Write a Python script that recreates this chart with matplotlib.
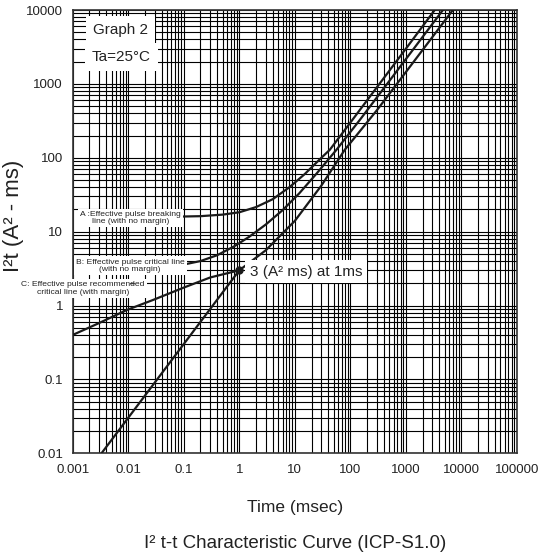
import matplotlib.pyplot as plt
from matplotlib.ticker import LogLocator, NullFormatter, FixedLocator, FixedFormatter

plt.rcParams['font.family'] = ['Liberation Sans', 'DejaVu Sans']

# axis ticks
x_ticks = [0.001, 0.01, 0.1, 1, 10, 100, 1000, 10000, 100000]
x_tick_labels = ["0.001", "0.01", "0.1", "1", "10", "100", "1000", "10000", "100000"]
y_ticks = [0.01, 0.1, 1, 10, 100, 1000, 10000]
y_tick_labels = ["0.01", "0.1", "1", "10", "100", "1000", "10000"]

# A: effective pulse breaking line
a_time = [0.085, 0.2, 0.5, 1, 2, 4, 8, 15, 30, 42.5, 100, 300, 1000, 3300]
a_i2t = [16.0, 16.2, 17.0, 18.3, 21.5, 27.5, 40, 60, 100, 128, 300, 900, 3000, 10000]

# B: effective pulse critical line
b_time = [0.085, 0.2, 0.4, 0.8, 1.5, 3, 6, 12, 25, 56, 150, 500, 1500, 4630]
b_i2t = [3.5, 4.0, 4.8, 6.3, 8.5, 12.5, 19.5, 33, 62, 128, 330, 1090, 3250, 10000]

# C: effective pulse recommended critical line
c_time = [0.001, 0.003, 0.0094, 0.028, 0.1, 0.3, 1.0, 3, 10, 30, 79, 300, 1000, 7000]
c_i2t = [0.40, 0.58, 0.87, 1.19, 1.75, 2.4, 3.0, 5.6, 14, 42, 128, 440, 1450, 10000]

# constant current line through 3 A^2ms at 1ms
k_time = [0.0033, 1.0]
k_i2t = [0.01, 3.0]

fig = plt.figure(figsize=(5.47, 5.53), dpi=100)
ax = fig.add_axes([0.1329, 0.1803, 0.8123, 0.8016])
ax.set_xscale("log")
ax.set_yscale("log")
ax.set_xlim(0.001, 100000)
ax.set_ylim(0.01, 10000)

# dense black log grid
ax.xaxis.set_minor_locator(LogLocator(base=10, subs=range(2, 10), numticks=20))
ax.yaxis.set_minor_locator(LogLocator(base=10, subs=range(2, 10), numticks=20))
ax.xaxis.set_minor_formatter(NullFormatter())
ax.yaxis.set_minor_formatter(NullFormatter())
ax.grid(True, which="both", color="black", linewidth=0.8)
ax.set_axisbelow(True)

ax.xaxis.set_major_locator(FixedLocator(x_ticks))
ax.xaxis.set_major_formatter(FixedFormatter(x_tick_labels))
ax.yaxis.set_major_locator(FixedLocator(y_ticks))
ax.yaxis.set_major_formatter(FixedFormatter(y_tick_labels))
ax.tick_params(which="both", length=0, labelsize=9.5, colors="#222222")
ax.tick_params(axis="x", pad=8)
ax.tick_params(axis="y", pad=7)
for s in ax.spines.values():
    s.set_linewidth(1.2)
    s.set_color("#333333")

lc = "#1a1a1a"
ax.plot(a_time, a_i2t, color=lc, linewidth=1.6, zorder=3)
ax.plot(b_time, b_i2t, color=lc, linewidth=1.6, zorder=3)
ax.plot(c_time, c_i2t, color=lc, linewidth=1.6, zorder=3)
ax.plot(k_time, k_i2t, color=lc, linewidth=1.6, zorder=3)
ax.plot([k_time[-1]], [k_i2t[-1]], "o", color=lc, markersize=5, zorder=4)

box = dict(boxstyle="square,pad=0.25", facecolor="white", edgecolor="none")
ax.text(0.0111, 15.3, "A :Effective pulse breaking\nline (with no margin)", fontsize=6.1,
        ha="center", va="center", linespacing=1.15, bbox=box, zorder=5, color="#222222")
ax.text(0.0108, 3.44, "B: Effective pulse critical line\n(with no margin)", fontsize=6.1,
        ha="center", va="center", linespacing=1.15, bbox=box, zorder=5, color="#222222")
ax.text(0.00153, 1.70, "C: Effective pulse recommended\ncritical line (with margin)", fontsize=6.1,
        ha="center", va="center", linespacing=1.15, bbox=box, zorder=5, color="#222222")
# leader from C label towards the curve
ax.annotate("", xy=(0.0145, 1.98), xytext=(0.0098, 1.98),
            arrowprops=dict(arrowstyle="-", color="#333333", linewidth=0.8), zorder=5)

ax.text(0.00724, 5360, "Graph 2", fontsize=11, ha="center", va="center", zorder=5,
        color="#222222", bbox=dict(boxstyle="square,pad=0.45", facecolor="white", edgecolor="none"))
ax.text(0.0076, 2333, "Ta=25°C", fontsize=11, ha="center", va="center", zorder=5,
        color="#222222", bbox=dict(boxstyle="square,pad=0.45", facecolor="white", edgecolor="none"))
ax.text(1.55, 2.88, "3 (A² ms) at 1ms", fontsize=11, ha="left", va="center", zorder=5,
        color="#222222", bbox=dict(boxstyle="square,pad=0.3", facecolor="white", edgecolor="none"))

fig.text(0.024, 0.61, "I²t (A² - ms)", rotation=90, fontsize=16, ha="center", va="center",
         color="#222222")
fig.text(0.539, 0.083, "Time (msec)", fontsize=12.5, ha="center", va="center", color="#222222")
fig.text(0.539, 0.018, "I² t-t Characteristic Curve (ICP-S1.0)", fontsize=13.5, ha="center",
         va="center", color="#222222")

fig.savefig("out.png", dpi=100)
